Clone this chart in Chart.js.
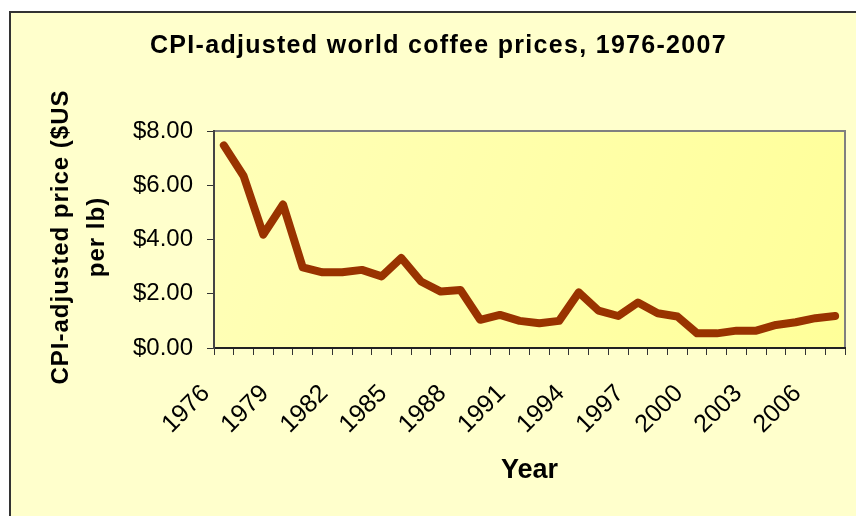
<!DOCTYPE html>
<html>
<head>
<meta charset="utf-8">
<script src="https://cdn.jsdelivr.net/npm/chart.js@4"></script>
<style>
  html, body { margin: 0; padding: 0; background: #fff; }
</style>
</head>
<body>
<canvas id="coffeeChart" width="856" height="516"></canvas>
<script>
const years = ['1976', '1977', '1978', '1979', '1980', '1981', '1982', '1983',
  '1984', '1985', '1986', '1987', '1988', '1989', '1990', '1991', '1992', '1993',
  '1994', '1995', '1996', '1997', '1998', '1999', '2000', '2001', '2002', '2003',
  '2004', '2005', '2006', '2007'];
const prices = [7.47, 6.34, 4.18, 5.29, 2.97, 2.79, 2.79, 2.88, 2.64, 3.32, 2.45,
  2.08, 2.14, 1.04, 1.22, 1.00, 0.91, 1.00, 2.05, 1.38, 1.18, 1.68, 1.28, 1.16,
  0.54, 0.54, 0.64, 0.64, 0.85, 0.95, 1.10, 1.18];
const shownYears = ['1976', '1979', '1982', '1985', '1988', '1991', '1994', '1997',
  '2000', '2003', '2006'];
const priceTicks = [0, 2, 4, 6, 8];

const chartTitle = 'CPI-adjusted world coffee prices, 1976-2007';
const yTitle = ['CPI-adjusted price ($US', 'per lb)'];
const xTitle = 'Year';

const FONT = '"Liberation Sans", Arial, sans-serif';

// background, outer frame and plot area fill
const frame = {
  id: 'frame',
  beforeDraw(chart) {
    const ctx = chart.ctx;
    const a = chart.chartArea;
    ctx.save();
    ctx.fillStyle = '#ffffff';
    ctx.fillRect(0, 0, chart.width, chart.height);
    ctx.fillStyle = '#FFFFCC';
    ctx.fillRect(9, 11, chart.width, chart.height);
    ctx.fillStyle = '#333333';
    ctx.fillRect(9, 11, 2, chart.height);
    ctx.fillRect(9, 11, chart.width, 2);

    const g = ctx.createLinearGradient(a.left, a.top, a.right, a.bottom);
    g.addColorStop(0, '#FFFFB8');
    g.addColorStop(1, '#FFFF99');
    ctx.fillStyle = g;
    ctx.fillRect(a.left, a.top, a.right - a.left, a.bottom - a.top);
    ctx.strokeStyle = '#808080';
    ctx.lineWidth = 2;
    ctx.beginPath();
    ctx.moveTo(a.left, a.top);
    ctx.lineTo(a.right, a.top);
    ctx.lineTo(a.right, a.bottom);
    ctx.stroke();
    ctx.restore();
  }
};

// titles (Excel-style letter spacing)
const texts = {
  id: 'texts',
  afterDraw(chart) {
    const ctx = chart.ctx;
    ctx.save();
    ctx.fillStyle = '#000';
    ctx.textBaseline = 'alphabetic';

    ctx.font = 'bold 25px ' + FONT;
    ctx.letterSpacing = '1.3px';
    ctx.textAlign = 'left';
    ctx.fillText(chartTitle, 150, 53);

    ctx.font = 'bold 24px ' + FONT;
    ctx.letterSpacing = '1px';
    ctx.textAlign = 'center';
    ctx.save();
    ctx.translate(68, 237);
    ctx.rotate(-Math.PI / 2);
    ctx.fillText(yTitle[0], 0, 0);
    ctx.fillText(yTitle[1], 0, 36);
    ctx.restore();

    ctx.font = 'bold 27px ' + FONT;
    ctx.letterSpacing = '0px';
    ctx.textAlign = 'left';
    ctx.fillText(xTitle, 501, 478);
    ctx.restore();
  }
};

const ctx = document.getElementById('coffeeChart').getContext('2d');

new Chart(ctx, {
  type: 'line',
  data: {
    labels: years,
    datasets: [{
      label: 'Price',
      data: prices,
      borderColor: '#993300',
      borderWidth: 8,
      borderCapStyle: 'round',
      borderJoinStyle: 'round',
      pointRadius: 0,
      tension: 0,
      fill: false
    }]
  },
  options: {
    responsive: false,
    animation: false,
    devicePixelRatio: 1,
    layout: { padding: { top: 131, right: 11, bottom: 0, left: 0 } },
    plugins: {
      legend: { display: false },
      tooltip: { enabled: false },
      title: { display: false }
    },
    scales: {
      x: {
        type: 'category',
        offset: true,
        grid: { offset: true, drawOnChartArea: false, tickLength: 7, color: '#333' },
        border: { color: '#222', width: 2 },
        ticks: {
          autoSkip: false,
          minRotation: 45,
          maxRotation: 45,
          padding: 24,
          labelOffset: -18,
          color: '#000',
          font: { family: FONT, size: 25 },
          callback: (v, i) => shownYears.includes(years[i]) ? years[i] : ''
        },
        afterFit: (s) => {
          s.height = 168;
          s.paddingLeft = 0;
          s.paddingRight = 0;
        }
      },
      y: {
        min: 0,
        max: 8,
        grid: { drawOnChartArea: false, tickLength: 7, color: '#333' },
        border: { color: '#444', width: 2 },
        ticks: {
          padding: 14,
          color: '#000',
          font: { family: FONT, size: 24 },
          callback: (v) => '$' + v.toFixed(2)
        },
        afterBuildTicks: (s) => { s.ticks = priceTicks.map(v => ({ value: v })); },
        afterFit: (s) => { s.width = 214; }
      }
    }
  },
  plugins: [frame, texts]
});
</script>
</body>
</html>
